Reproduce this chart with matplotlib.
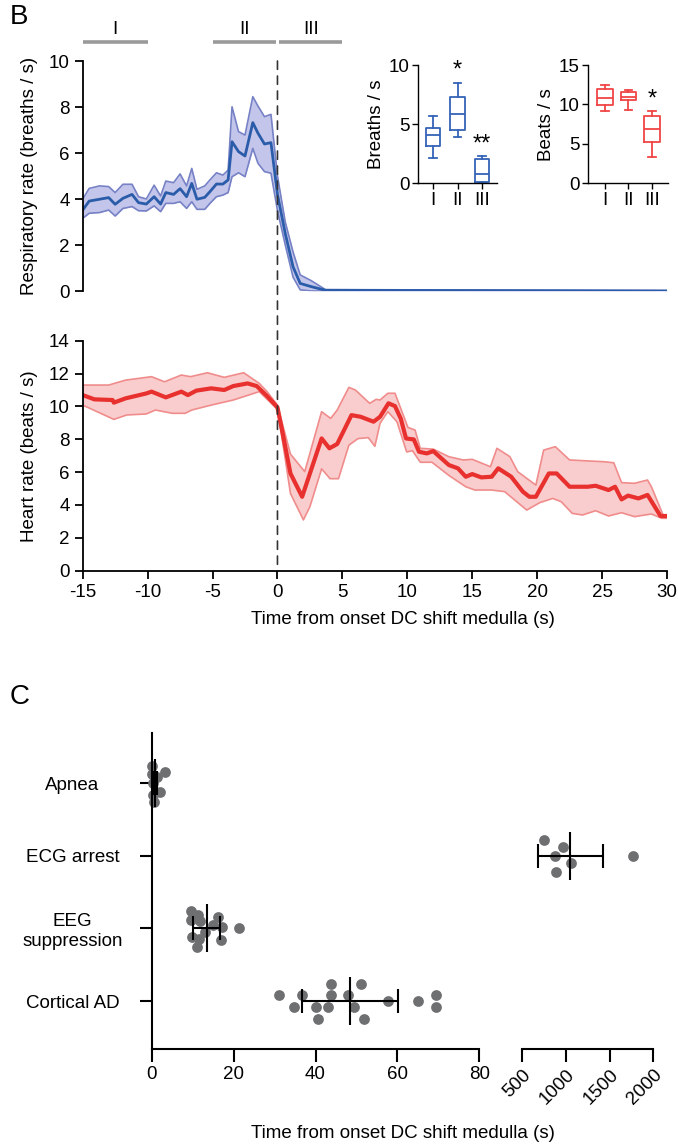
import matplotlib
matplotlib.use("Agg")
import matplotlib.pyplot as plt
from matplotlib.patches import ConnectionPatch
import numpy as np

plt.rcParams['font.family'] = ['Liberation Sans', 'DejaVu Sans']
plt.rcParams['axes.unicode_minus'] = False
plt.rcParams['font.size'] = 13

# ---- panel B, respiratory rate (mean and band) ----
resp_t = [-15, -14.5, -13.7, -13, -12.5, -11.9, -11.2, -10.7, -10.1, -9.5, -9, -8.6, -8, -7.5, -7,
          -6.6, -6.2, -5.6, -5.2, -4.7, -4.2, -3.8, -3.5, -3, -2.5, -1.9, -1.5, -1, -0.5, 0,
          0.6, 1.2, 1.75, 2.6, 3.7, 30]
resp_mean = [3.52, 3.91, 3.99, 4.06, 3.77, 4.03, 4.20, 3.84, 3.78, 4.10, 3.78, 4.28, 4.20, 4.45, 4.10,
             4.68, 3.99, 4.07, 4.32, 4.65, 4.65, 4.83, 6.49, 6.06, 5.87, 7.32, 6.86, 6.39, 6.45, 4.2,
             2.5, 1.05, 0.33, 0.19, 0.03, 0.0]
resp_hi = [4.0, 4.46, 4.57, 4.54, 4.28, 4.64, 4.64, 4.10, 4.0, 4.6, 4.13, 4.78, 4.71, 5.09, 4.57,
           5.33, 4.42, 4.57, 4.83, 5.14, 5.04, 5.26, 8.01, 6.93, 6.78, 8.45, 8.04, 7.58, 7.68, 5.0,
           3.0, 1.7, 0.7, 0.45, 0.06, 0.02]
resp_lo = [3.16, 3.38, 3.41, 3.52, 3.26, 3.59, 3.67, 3.49, 3.48, 3.70, 3.45, 3.81, 3.81, 3.88, 3.59,
           3.88, 3.55, 3.55, 3.81, 4.10, 4.17, 4.28, 4.97, 5.14, 4.97, 6.20, 5.55, 5.19, 5.12, 3.5,
           2.0, 0.6, 0.05, 0.0, 0.0, 0.0]

# ---- panel B, heart rate ----
heart_t = [-15, -14.1, -12.7, -12.6, -11.7, -10.1, -9.7, -8.6, -7.4, -6.9, -6.25, -5.1, -4.1, -3.4, -2.3,
           -1.6, -0.8, 0, 0.4, 1.0, 1.9, 3.4, 4.0, 4.6, 5.7, 6.4, 7.4, 7.9, 8.55, 9.05, 9.5,
           9.9, 10.5, 10.9, 11.5, 12.0, 13.2, 13.9, 14.5, 15.0, 15.7, 16.5, 17.0, 18.0, 18.9, 19.4,
           19.9, 20.9, 21.5, 22.5, 23.9, 24.5, 25.5, 26.0, 26.5, 27.0, 27.8, 28.5, 29.5, 30]
heart_mean = [10.69, 10.43, 10.39, 10.23, 10.49, 10.79, 10.9, 10.55, 10.9, 10.69, 10.96, 11.1, 11.0, 11.24, 11.4,
              11.24, 10.63, 9.94, 8.36, 5.92, 4.5, 8.05, 7.45, 7.71, 9.47, 9.37, 9.07, 9.37, 10.19, 10.02, 9.25,
              8.05, 7.99, 7.24, 7.14, 7.28, 6.43, 6.23, 5.72, 5.88, 5.68, 5.72, 6.23, 5.72, 4.81, 4.5,
              4.5, 5.92, 5.92, 5.11, 5.11, 5.17, 4.91, 5.11, 4.34, 4.57, 4.4, 4.61, 3.33, 3.33]
heart_hi_t = [-15, -13, -11.7, -9.7, -8.7, -7.4, -6.7, -5.4, -4.1, -2.6, -1.4, -0.8, 0, 1.0, 2.1,
              3.4, 4.1, 4.6, 5.5, 6.0, 7.1, 7.6, 7.9, 8.5, 9.05, 10.05, 10.6, 11.0, 12.0, 13.2,
              14.3, 15.0, 16.4, 16.9, 17.9, 18.5, 19.9, 20.5, 21.4, 22.5, 25.2, 25.9, 26.5, 27.5, 28.5,
              28.8, 29.7, 30]
heart_hi = [11.3, 11.3, 11.6, 11.81, 11.5, 11.91, 11.81, 12.05, 11.77, 12.05, 11.4, 10.9, 10.08, 7.1, 6.03,
            9.68, 9.27, 9.78, 11.16, 11.0, 10.19, 10.43, 10.39, 10.8, 10.8, 8.72, 8.56, 7.45, 7.4, 6.94,
            6.74, 6.78, 6.33, 7.45, 6.94, 6.03, 5.21, 7.34, 7.55, 6.74, 6.63, 6.57, 5.36, 5.32, 5.52,
            5.11, 3.39, 3.29]
heart_lo_t = [-15, -12.6, -11.6, -10.1, -9.4, -8.1, -7.1, -6.6, -5.1, -3.4, -1.4, 0, 0.6, 1.0, 2.0,
              2.5, 3.4, 4.05, 4.7, 5.5, 6.2, 7.0, 7.5, 7.9, 8.5, 9.2, 9.95, 10.4, 11.0, 11.9,
              13.2, 14.5, 15.2, 16.5, 17.5, 19.2, 20.2, 21.2, 21.85, 22.7, 23.5, 24.5, 25.5, 26.5, 27.5,
              28.8, 29.6, 30]
heart_lo = [10.08, 9.21, 9.48, 9.54, 9.78, 9.58, 9.58, 9.78, 10.08, 10.39, 10.9, 9.82, 6.8, 4.7, 3.09,
            3.9, 6.2, 5.6, 5.6, 7.64, 8.04, 8.1, 7.57, 8.97, 9.68, 9.07, 7.23, 7.3, 6.6, 6.6,
            5.8, 5.11, 4.91, 4.91, 4.81, 3.69, 4.14, 4.4, 4.2, 3.49, 3.39, 3.65, 3.33, 3.53, 3.29,
            3.45, 3.19, 3.19]

# ---- insets (box stats: whislo, q1, med, q3, whishi) ----
periods = ['I', 'II', 'III']
breath_box = [(2.1, 3.15, 4.05, 4.7, 5.7), (3.9, 4.5, 5.9, 7.3, 8.5), (0.05, 0.1, 0.75, 2.05, 2.3)]
beat_box = [(9.2, 9.9, 10.8, 12.0, 12.5), (9.3, 10.5, 11.0, 11.6, 11.8), (3.3, 5.2, 6.9, 8.5, 9.2)]
breath_stars = {1: ('*', 9.5), 2: ('**', 3.3)}
beat_stars = {2: ('*', 10.6)}

# period bars above panel B
period_spans = [(-15, -10), (-5, -0.15), (0.15, 5)]

# ---- panel C ----
events = ['Apnea', 'ECG arrest', 'EEG\nsuppression', 'Cortical AD']
event_pos = [3, 2, 1, 0]
apnea_x = [0.0, 0.1, 3.3, 1.2, 0.2, 2.1, 0.3, 0.5]
apnea_off = [0.24, 0.12, 0.15, 0.08, 0.0, -0.12, -0.17, -0.26]
ecg_x = [748, 969, 874, 1054, 886, 1770]
ecg_off = [0.215, 0.115, 0.0, -0.105, -0.22, 0.0]
eeg_x = [9.5, 11.4, 16.3, 9.5, 11.8, 17.1, 21.2, 15.0, 9.8, 11.6, 16.9, 11.1, 13.0]
eeg_off = [0.24, 0.18, 0.16, 0.11, 0.1, 0.02, 0.0, 0.05, -0.12, -0.14, -0.16, -0.25, -0.05]
ctx_x = [31.1, 36.7, 43.9, 51.1, 43.9, 47.9, 34.7, 40.2, 43.1, 49.5, 40.7, 51.8, 57.6, 65.0, 69.5, 69.5]
ctx_off = [0.08, 0.08, 0.24, 0.24, 0.08, 0.08, -0.08, -0.08, -0.08, -0.08, -0.25, -0.25, 0, 0, 0.08, -0.08]
event_mean = [0.8, 1050, 13.4, 48.4]
event_sd = [0.6, 370, 3.3, 11.8]

blue = '#2a5caa'
blue_fill = '#c3c6ea'
blue_edge = '#7681c6'
red = '#e8302e'
red_fill = '#f9cdcd'
red_edge = '#f08c8c'
grey_dot = '#6d6f71'

W, H = 678, 1145
fig = plt.figure(figsize=(W / 100, H / 100), dpi=100)


def box(left, top, right, bottom):
    return [left / W, 1 - bottom / H, (right - left) / W, (bottom - top) / H]


def style(ax, lw=1.3):
    for s in ['top', 'right']:
        ax.spines[s].set_visible(False)
    for s in ['left', 'bottom']:
        ax.spines[s].set_linewidth(lw)
    ax.tick_params(width=lw, length=6, labelsize=13.5)


# respiratory
ax_r = fig.add_axes(box(82.7, 61, 667, 291))
style(ax_r)
ax_r.spines['bottom'].set_visible(False)
ax_r.tick_params(axis='x', bottom=False, labelbottom=False)
ax_r.fill_between(resp_t, resp_lo, resp_hi, color=blue_fill, lw=0)
ax_r.plot(resp_t, resp_hi, color=blue_edge, lw=1.2)
ax_r.plot(resp_t, resp_lo, color=blue_edge, lw=1.2)
ax_r.plot(resp_t, resp_mean, color=blue, lw=2)
ax_r.set_xlim(-15, 30)
ax_r.set_ylim(0, 10)
ax_r.set_yticks(range(0, 11, 2))
ax_r.set_ylabel('Respiratory rate (breaths / s)', fontsize=13.5, labelpad=8)
for (a, b), lab in zip(period_spans, periods):
    ax_r.plot([a, b], [10.84, 10.84], color='#9a9a9a', lw=2.6, clip_on=False, solid_capstyle='butt')
    ax_r.text((a + b) / 2, 11.0, lab, ha='center', va='bottom', fontsize=13.5)

# heart
ax_h = fig.add_axes(box(82.7, 340.7, 667, 570.7))
style(ax_h)
ax_h.fill(np.concatenate([heart_hi_t, heart_lo_t[::-1]]), np.concatenate([heart_hi, heart_lo[::-1]]),
          color=red_fill, lw=0)
ax_h.plot(heart_hi_t, heart_hi, color=red_edge, lw=1.2)
ax_h.plot(heart_lo_t, heart_lo, color=red_edge, lw=1.2)
ax_h.plot(heart_t, heart_mean, color=red, lw=3)
ax_h.set_xlim(-15, 30)
ax_h.set_ylim(0, 14)
ax_h.set_yticks(range(0, 15, 2))
ax_h.set_xticks(range(-15, 31, 5))
ax_h.set_ylabel('Heart rate (beats / s)', fontsize=13.5, labelpad=8)
fig.text(403 / W, 1 - 620 / H, 'Time from onset DC shift medulla (s)', ha='center', va='center', fontsize=13.5)

con = ConnectionPatch(xyA=(0, 10), coordsA=ax_r.transData, xyB=(0, 0), coordsB=ax_h.transData,
                      color='#333333', lw=1.2, linestyle=(0, (5, 4)))
fig.add_artist(con)


def inset(rect, stats, color, ylim, yticks, ylabel, stars, width):
    ax = fig.add_axes(rect)
    style(ax, lw=1.0)
    ax.tick_params(length=4, labelsize=13.5, pad=2)
    bx = [dict(whislo=s[0], q1=s[1], med=s[2], q3=s[3], whishi=s[4], label=p)
          for s, p in zip(stats, periods)]
    ax.bxp(bx, positions=[1, 2, 3], widths=width, showfliers=False,
           boxprops=dict(color=color, lw=1.3), medianprops=dict(color=color, lw=1.3),
           whiskerprops=dict(color=color, lw=1.3), capprops=dict(color=color, lw=1.3))
    for i, (s, y) in stars.items():
        ax.text(i + 1, y, s, ha='center', va='center', fontsize=17)
    ax.set_ylim(*ylim)
    ax.set_yticks(yticks)
    ax.set_ylabel(ylabel, fontsize=13.5, labelpad=3)
    return ax


ax_bi = inset(box(418, 65, 497, 183.3), breath_box, '#3563b8', (0, 10), [0, 5, 10], 'Breaths / s',
              breath_stars, 0.6)
ax_bi.set_xlim(0.39, 3.61)
ax_hi = inset(box(588, 65, 668, 183.3), beat_box, '#f04545', (0, 15), [0, 5, 10, 15], 'Beats / s',
              beat_stars, 0.65)
ax_hi.set_xlim(0.28, 3.68)

fig.text(10 / W, 1 - 17 / H, 'B', fontsize=20, va='center')
fig.text(10 / W, 1 - 697 / H, 'C', fontsize=20, va='center')

# panel C
ax1 = fig.add_axes(box(151.7, 733, 479.3, 1049))
ax2 = fig.add_axes(box(522.3, 733, 653.3, 1049))
for ax in (ax1, ax2):
    style(ax, lw=1.5)
    ax.tick_params(length=9)
    ax.set_ylim(-0.66, 3.69)
ax2.spines['left'].set_visible(False)
ax2.tick_params(axis='y', left=False, labelleft=False)

ax1.set_xlim(0, 80)
ax1.set_xticks(range(0, 81, 20))
ax1.set_yticks(event_pos)
ax1.set_yticklabels(events, ha='center', fontsize=13.5)
ax1.tick_params(axis='y', pad=48)
ax2.set_xlim(500, 2000)
ax2.set_xticks([500, 1000, 1500, 2000])
ax2.set_xticklabels(['500', '1000', '1500', '2000'], rotation=45, ha='right', rotation_mode='anchor')

groups = [(ax1, apnea_x, apnea_off), (ax2, ecg_x, ecg_off), (ax1, eeg_x, eeg_off), (ax1, ctx_x, ctx_off)]
for (ax, xs, offs), p, m, sd in zip(groups, event_pos, event_mean, event_sd):
    ax.scatter(xs, np.array(offs) + p, s=60, color=grey_dot, lw=0, zorder=2, clip_on=False)
    ax.errorbar([m], [p], xerr=[sd], fmt='none', ecolor='black', elinewidth=1.5, capsize=8.4,
                capthick=1.5, zorder=3, clip_on=False)
    ax.plot([m], [p], marker='|', markersize=35, mew=1.5, color='black', zorder=3, clip_on=False)

fig.text(403 / W, 1 - 1133 / H, 'Time from onset DC shift medulla (s)', ha='center', va='center', fontsize=13.5)

fig.savefig('out.png', dpi=100)
